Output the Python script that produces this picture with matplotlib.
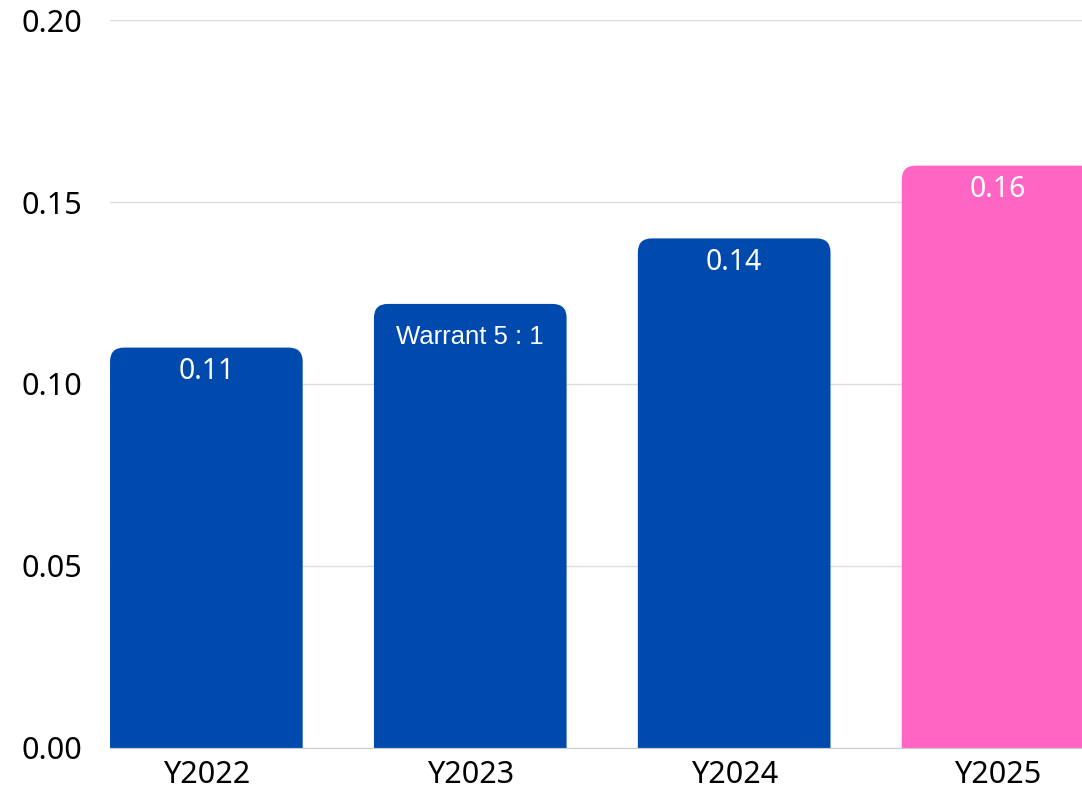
import matplotlib
matplotlib.use("Agg")
import matplotlib.pyplot as plt
from matplotlib.patches import PathPatch
from matplotlib.path import Path

# data
years = ["Y2022", "Y2023", "Y2024", "Y2025"]
values = [0.11, 0.122, 0.14, 0.16]
labels = ["0.11", "Warrant 5 : 1", "0.14", "0.16"]
colors = ["#004AAD", "#004AAD", "#004AAD", "#FF66C4"]
yticks = [0.00, 0.05, 0.10, 0.15, 0.20]

fig = plt.figure(figsize=(10.82, 7.91), dpi=100)
ax = fig.add_axes([0.1017, 0.0544, 0.8983, 0.9203])

width = 0.73
xlim = (-0.365, 3.318)
ylim = (0, 0.20)
ax.set_xlim(*xlim)
ax.set_ylim(*ylim)

# pixel sizes in data units, for corner radius and text offsets
px_x = (xlim[1] - xlim[0]) / (1082 * 0.8983)
px_y = (ylim[1] - ylim[0]) / (791 * 0.9203)


def top_rounded_bar(x0, w, h, r=14):
    rx, ry = r * px_x, r * px_y
    verts = [(x0, 0), (x0, h - ry), (x0, h), (x0 + rx, h),
             (x0 + w - rx, h), (x0 + w, h), (x0 + w, h - ry),
             (x0 + w, 0), (x0, 0)]
    codes = [Path.MOVETO, Path.LINETO, Path.CURVE3, Path.CURVE3,
             Path.LINETO, Path.CURVE3, Path.CURVE3,
             Path.LINETO, Path.CLOSEPOLY]
    return Path(verts, codes)


for i, (v, c) in enumerate(zip(values, colors)):
    ax.add_patch(PathPatch(top_rounded_bar(i - width / 2, width, v),
                           fc=c, ec="none", zorder=3))

for i, (v, lab) in enumerate(zip(values, labels)):
    if lab.startswith("Warrant"):
        ax.text(i, v - 33 * px_y, lab, ha="center", va="center", color="white",
                fontsize=18.5, family="Liberation Sans", zorder=4)
    else:
        ax.text(i, v - 24 * px_y, lab, ha="center", va="center", color="white",
                fontsize=20.5, family="Noto Sans", zorder=4)

ax.set_xticks(range(len(years)))
ax.set_xticklabels(years, fontsize=22, family="Noto Sans")
ax.set_yticks(yticks)
ax.set_yticklabels([f"{t:.2f}" for t in yticks], fontsize=22, family="Noto Sans")
ax.tick_params(axis="x", length=0, pad=9)
ax.tick_params(axis="y", length=0, pad=20)

ax.grid(axis="y", color="#dddddd", lw=1, zorder=0)
ax.set_axisbelow(True)
for s in ["top", "right", "left"]:
    ax.spines[s].set_visible(False)
ax.spines["bottom"].set_color("#cccccc")
ax.spines["bottom"].set_zorder(5)

fig.savefig("out.png", dpi=100)
